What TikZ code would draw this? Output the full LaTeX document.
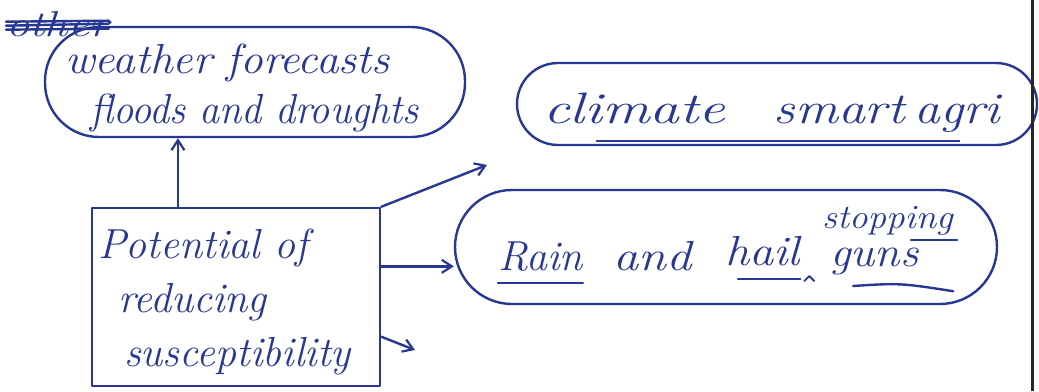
\documentclass[tikz,border=0pt]{standalone}
\usepackage{graphicx}
\usetikzlibrary{arrows.meta,calc}
\definecolor{ink}{RGB}{40,55,145}
\newcommand\inkfont[2]{\fontsize{#1}{#2}\selectfont\itshape}
\newcommand\hw[2]{\scalebox{#1}[1]{#2}}
\begin{document}
\begin{tikzpicture}[x=1pt,y=-1pt,
  pen/.style={draw=ink,line width=2.4pt,line cap=round,line join=round},
  txt/.style={text=ink,font=\inkfont{42}{50},inner sep=0pt},
  arr/.style={pen,-{Straight Barb[length=10pt,width=13pt,line width=2.2pt]}}]
\useasboundingbox (0,0) rectangle (1039,391);
\fill[white] (0,0) rectangle (1039,391);

% crossed-out word
\node[txt,anchor=base west,font=\inkfont{36}{40}] (other) at (6,36) {\hw{1.3}{other}};
\draw[pen] ([yshift=-6pt]other.west) -- ([yshift=-5pt]other.east);
\draw[pen] ([yshift=-2pt]other.west) -- ([yshift=0pt]other.east);
\draw[pen] ([yshift=2pt]other.west) -- ([yshift=3pt]other.east);

% bubbles
\node[pen,txt,rounded corners=54pt,minimum width=420pt,minimum height=110pt,text width=380pt,align=left,
  text height=30pt,text depth=48pt]
  (weather) at (255,82) {\hw{1.08}{weather forecasts}\\\hspace{25pt}\hw{0.96}{floods and droughts}};
\node[pen,txt,font=\inkfont{44}{54},rounded corners=41pt,minimum width=520pt,minimum height=82pt,
  text width=480pt,align=left,text height=47pt,text depth=9pt]
  (climate) at (777,104) {\hspace{6pt}\hw{1.35}{climate}\hspace{48pt}\hw{1.22}{smart}\hspace{10pt}\hw{1.17}{agri}};
\draw[pen] ([shift={(81,-5)}]climate.south west) -- ([shift={(-79,-5)}]climate.south east);

\node[pen,rounded corners=57pt,minimum width=542pt,minimum height=114pt] (rain) at (726,247) {};
\node[txt,anchor=base west] (wrain) at (498,270) {Rain};
\node[txt,anchor=base west] (wand) at (613,270) {\hw{1.2}{and}};
\node[txt,anchor=base west] (whail) at (725,265) {\hw{1.15}{hail}};
\node[txt,anchor=base west,font=\inkfont{34}{40}] (wstop) at (822,228) {\hw{1.09}{stopping}};
\node[txt,anchor=base west,text height=20pt] (wguns) at (830,266) {\hw{1.09}{guns}};
\draw[pen] ([yshift=-13pt]wrain.base west) -- ([yshift=-13pt]wrain.base east);
\draw[pen] ([shift={(13pt,-14pt)}]whail.base west) -- ([yshift=-14pt]whail.base east);
\draw[pen] ([shift={(-42pt,-12pt)}]wstop.base east) -- ([shift={(4pt,-12pt)}]wstop.base east);
\draw[pen,line width=1.8pt] ([shift={(4pt,-16pt)}]whail.base east) -- ++(5pt,5pt) -- ++(5pt,-5pt);
\draw[pen] ([shift={(23pt,-20pt)}]wguns.base west) .. controls ([shift={(70pt,-17pt)}]wguns.base west) .. ([shift={(-45,-14)}]rain.south east);

% main box
\node[pen,txt,rectangle,minimum width=288pt,minimum height=178pt,text width=276pt,align=left,
  font=\inkfont{42}{54},text height=30pt,text depth=107pt]
  (box) at (236,297) {Potential of\\\hspace{20pt}reducing\\\hspace{26pt}susceptibility};

% connectors
\coordinate (b1) at ($(box.north west)!0.30!(box.north east)$);
\draw[arr] (b1) -- (b1 |- weather.south);
\coordinate (t2) at (487,165);
\draw[arr] (box.north east) -- (t2);
\coordinate (b3) at ($(box.north east)!0.33!(box.south east)$);
\draw[arr] (b3) -- (b3 -| rain.west);
\coordinate (b4) at ($(box.north east)!0.72!(box.south east)$);
\coordinate (t4) at (415,350);
\draw[arr] (b4) -- (t4);

% page edge
\draw[line width=3pt,black!85] (1032,0) -- (1032,391);
\end{tikzpicture}
\end{document}
